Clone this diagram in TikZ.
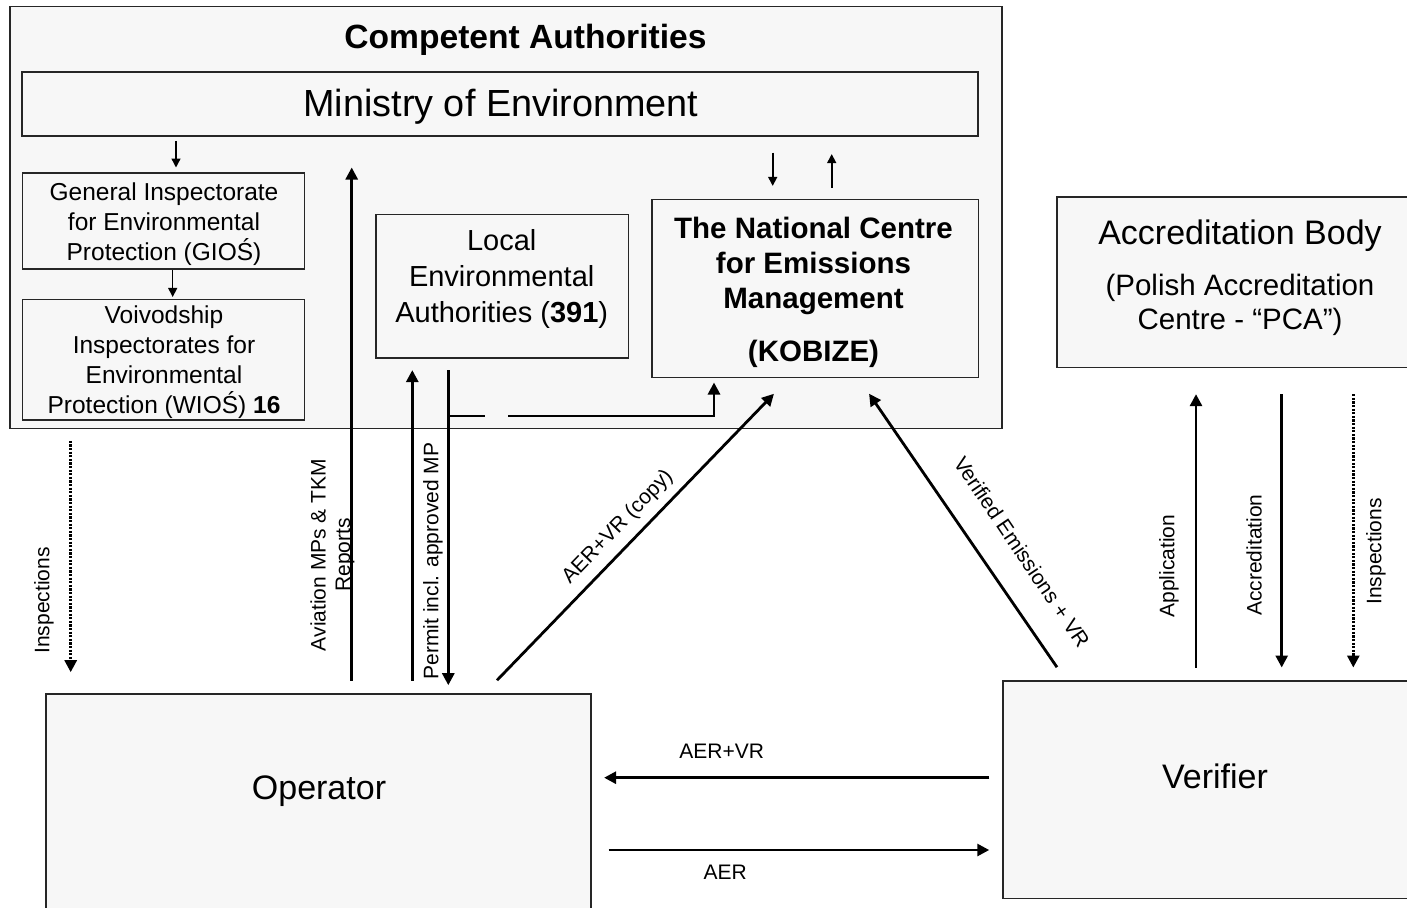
\documentclass[tikz,border=0pt]{standalone}
\usepackage{fontspec}
\setmainfont{Liberation Sans}
\usetikzlibrary{arrows.meta,calc}

\begin{document}
\begin{tikzpicture}[x=1pt, y=-1pt,
        box/.style={draw=black!85, line width=1.6pt, fill=black!3, inner sep=0pt},
        flow/.style={-{Triangle[length=12pt,width=12pt]}, line width=2.8pt},
        thinflow/.style={-{Triangle[length=9pt,width=9pt]}, line width=1.4pt},
        check/.style={flow, dash pattern=on 2.2pt off 1.4pt},
        lbl/.style={font=\fontsize{21}{24.5}\selectfont, inner sep=0pt}]
    \useasboundingbox (0,0) rectangle (1407,907);

    % boxes of the competent authorities
    \node[box, minimum width=991.7, minimum height=421.6] (ca) at (505.9,217.5) {};
    \node[font=\fontsize{33.6}{40}\selectfont\bfseries, inner sep=0pt] (catitle) at (525.5,39.7) {Competent Authorities};
    \node[box, minimum width=956, minimum height=64] (ministry) at (500,104) {};
    \node[font=\fontsize{37.8}{44}\selectfont, inner sep=0pt] (ministrytxt) at (500.8,106.5) {Ministry of Environment};
    \node[box, minimum width=282, minimum height=96] (gios) at (163.3,220.7) {};
    \node[font=\fontsize{24.5}{30}\selectfont, align=center, inner sep=0pt] (giostxt) at (164,224.5) {General Inspectorate\\for Environmental\\Protection (GIOŚ)};
    \node[box, minimum width=282, minimum height=120.7] (wios) at (163.3,359.7) {};
    \node[font=\fontsize{24.5}{30}\selectfont, align=center, inner sep=0pt] (wiostxt) at (164,361.9) {Voivodship\\Inspectorates for\\Environmental\\Protection (WIOŚ) \textbf{16}};
    \node[box, minimum width=252.3, minimum height=143.4] (local) at (502.2,286) {};
    \node[font=\fontsize{29}{36}\selectfont, align=center, inner sep=0pt] (localtxt) at (501.7,279) {Local\\Environmental\\Authorities (\textbf{391})};
    \node[box, minimum width=326.6, minimum height=178] (kobize) at (815,288.3) {};
    \node[font=\fontsize{29.5}{34.8}\selectfont\bfseries, align=center, inner sep=0pt] (kobizetxt) at (813.5,292.5) {The National Centre\\for Emissions\\Management\\[19pt](KOBIZE)};

    % other parties
    \node[box, minimum width=355, minimum height=170.3] (accr) at (1234.5,282.2) {};
    \node[font=\fontsize{29.5}{34.5}\selectfont, align=center, inner sep=0pt] (accrtxt) at (1240,277.8) {{\fontsize{34}{40}\selectfont Accreditation Body}\\[16pt](Polish Accreditation\\Centre - “PCA”)};
    \node[box, minimum width=545, minimum height=221] (operator) at (318.5,804.5) {};
    \node[font=\fontsize{34}{40}\selectfont, inner sep=0pt] (operatortxt) at (319,791) {Operator};
    \node[box, minimum width=409.3, minimum height=217.6] (verifier) at (1207.4,789.5) {};
    \node[font=\fontsize{34}{40}\selectfont, inner sep=0pt] (verifiertxt) at (1215,776) {Verifier};

    % connections inside the competent authorities
    \draw[thinflow, shorten <=4pt, shorten >=4.4pt] (ministry.south -| 176,0) -- (gios.north -| 176,0);
    \draw[thinflow, shorten <=0.6pt, shorten >=1.6pt] (gios.south -| 172.7,0) -- (wios.north -| 172.7,0);
    \draw[thinflow, line width=1.6pt, shorten <=15.7pt, shorten >=12.6pt] (ministry.south -| 772.7,0) -- (kobize.north -| 772.7,0);
    \draw[thinflow, line width=1.6pt, shorten <=11pt, shorten >=17.3pt] (kobize.north -| 831.7,0) -- (ministry.south -| 831.7,0);

    % connections of the operator
    \draw[flow, shorten <=12.3pt, shorten >=30.7pt] (operator.north -| 351.7,0) -- (ministry.south -| 351.7,0);
    \draw[flow, shorten <=12.3pt, shorten >=11.6pt] (operator.north -| 412.3,0) -- (local.south -| 412.3,0);
    \draw[flow, shorten <=11.6pt, shorten >=8pt] (local.south -| 448.3,0) -- (operator.north -| 448.3,0);
    \coordinate (split) at (448.3,416);
    \coordinate (rejoin) at (508.3,416);
    \draw[line width=2.8pt] (split) -- ++(36.7,0);
    \draw[flow, shorten >=4.4pt] (rejoin) -| (kobize.south -| 714,0);
    \draw[flow, shorten <=18pt, shorten >=21.8pt] (operator.north -| 484.5,0) -- (kobize.south -| 789.1,0);
    \draw[check, shorten <=11.7pt, shorten >=21pt] (ca.south -| 70.7,0) -- (operator.north -| 70.7,0);

    % connections of the verifier
    \draw[flow, shorten <=15.4pt, shorten >=19pt] (verifier.north -| 1065.7,0) -- (kobize.south -| 858.3,0);
    \draw[flow, shorten <=12.4pt, shorten >=26pt] (verifier.north -| 1196,0) -- (accr.south -| 1196,0);
    \draw[flow, shorten <=26pt, shorten >=12.4pt] (accr.south -| 1281.7,0) -- (verifier.north -| 1281.7,0);
    \draw[check, shorten <=26pt, shorten >=12.4pt] (accr.south -| 1353.3,0) -- (verifier.north -| 1353.3,0);
    \draw[flow, shorten <=12.7pt, shorten >=12.3pt] (verifier.west |- 0,777.7) -- (operator.east |- 0,777.7);
    \draw[flow, shorten <=16.7pt, shorten >=12.7pt] (operator.east |- 0,850) -- (verifier.west |- 0,850);

    % labels of the connections
    \node[lbl, rotate=90] (inspleft) at (44,600.5) {Inspections};
    \node[lbl, rotate=90, align=center] (aviation) at (332.5,555) {Aviation MPs \& TKM\\Reports};
    \node[lbl, rotate=90] (permit) at (433,561) {Permit incl. approved MP};
    \node[lbl, rotate=46] (aercopy) at (618,527) {AER+VR (copy)};
    \node[lbl, rotate=-56] (verified) at (1022,552) {Verified Emissions + VR};
    \node[lbl, rotate=90] (application) at (1169,566) {Application};
    \node[lbl, rotate=90] (accreditation) at (1254,555) {Accreditation};
    \node[lbl, rotate=90] (inspright) at (1376,551.5) {Inspections};
    \node[lbl] (aervr) at (721.7,751.7) {AER+VR};
    \node[lbl] (aer) at (725.3,872) {AER};
\end{tikzpicture}
\end{document}
